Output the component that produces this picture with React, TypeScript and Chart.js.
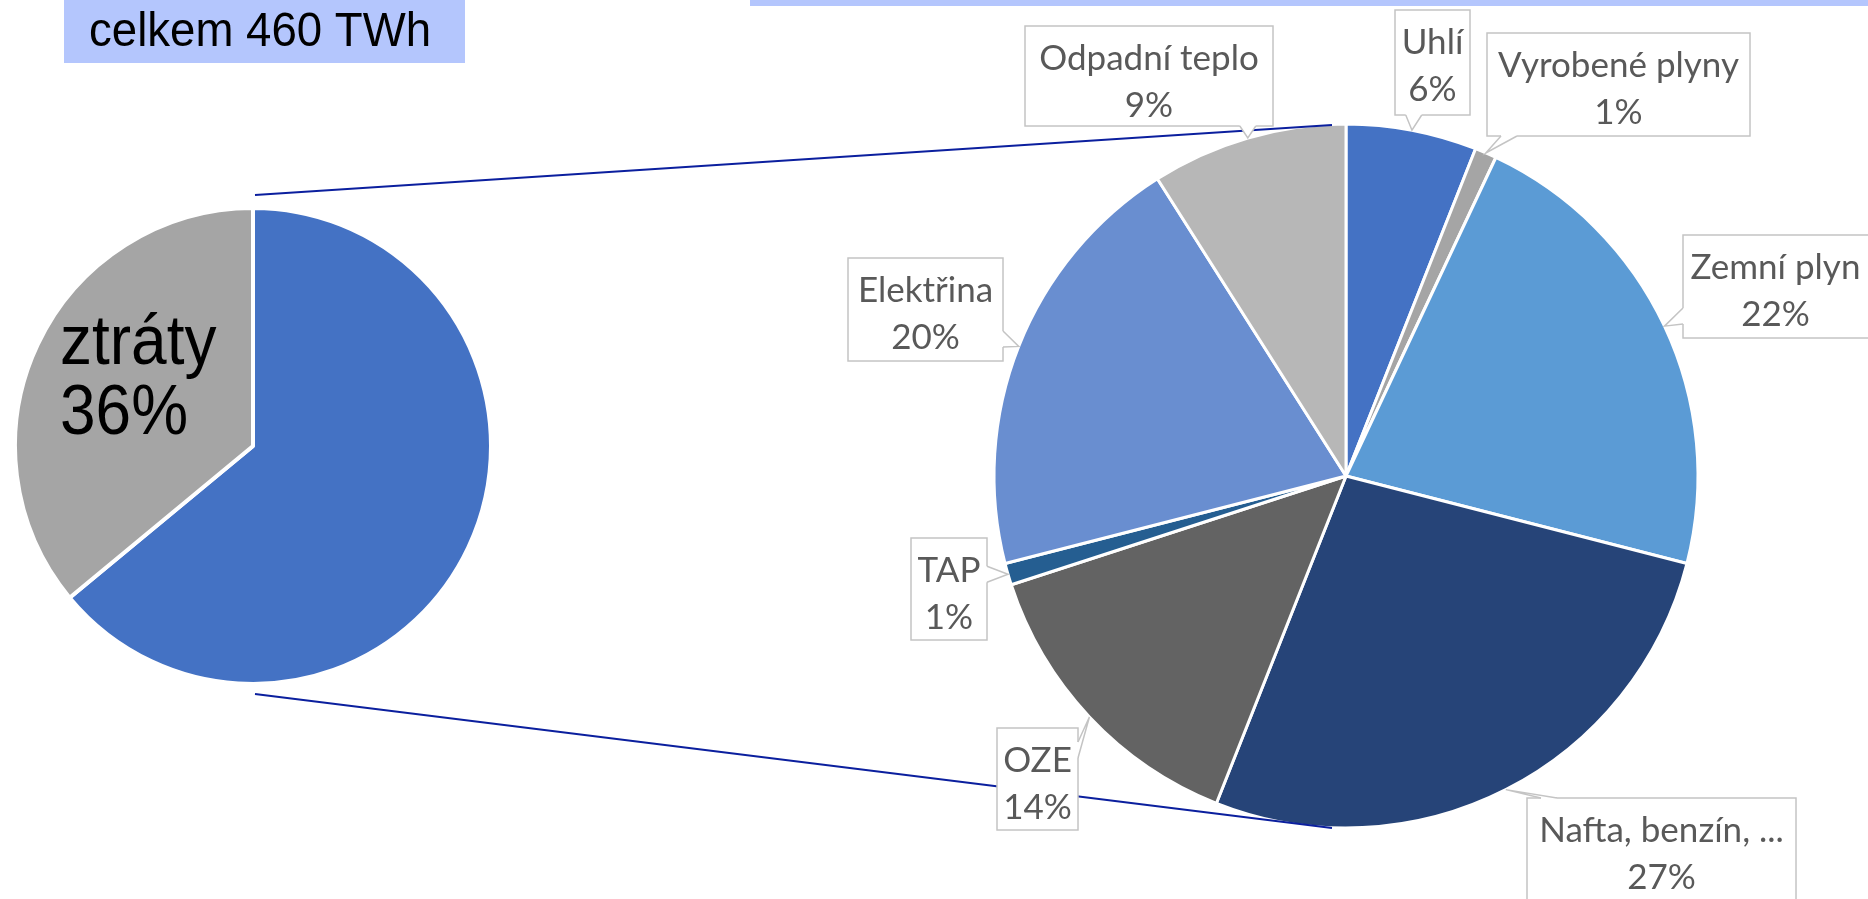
import React, { useEffect, useRef } from "react";
import { Chart, registerables } from "chart.js";

Chart.register(...registerables);

// ---------- data ----------
const totalTitle = "celkem 460 TWh";
const totalLabels = ["využito", "ztráty"];
const totalValues = [64, 36];
const totalColors = ["#4472C4", "#A5A5A5"];

const mixLabels = [
  "Uhlí",
  "Vyrobené plyny",
  "Zemní plyn",
  "Nafta, benzín, ...",
  "OZE",
  "TAP",
  "Elektřina",
  "Odpadní teplo",
];
const mixValues = [6, 1, 22, 27, 14, 1, 20, 9];
const mixColors = [
  "#4472C4",
  "#A5A5A5",
  "#5B9BD5",
  "#264478",
  "#636363",
  "#255E91",
  "#698ED0",
  "#B7B7B7",
];

// ---------- layout ----------
const PAGE_W = 1868;
const PAGE_H = 899;
const LEFT_CX = 253;
const LEFT_CY = 446;
const LEFT_R = 238;
const LEFT_BW = 4;
const RIGHT_CX = 1346;
const RIGHT_CY = 476;
const RIGHT_R = 352;
const RIGHT_BW = 3;

// callout boxes [x, y, w, h] and side of the pointer
const calloutBoxes = [
  [1395, 10, 75, 105],
  [1487, 33, 263, 103],
  [1683, 235, 187, 103],
  [1527, 798, 269, 103],
  [997, 728, 81, 102],
  [911, 538, 76, 102],
  [848, 258, 155, 103],
  [1025, 26, 248, 100],
];
const calloutSides = ["bottom", "bottom", "left", "top", "right", "right", "right", "bottom"];

const LABEL_FONT = "35px Lato, 'Open Sans', sans-serif";
const LABEL_COLOR = "#595959";
const BOX_STROKE = "#C4C4C4";
const CONNECTOR = "#0B1F9E";
const TITLE_BG = "#B4C6FD";

function clamp(v: number, a: number, b: number) {
  return Math.max(a, Math.min(b, v));
}

function drawCallout(
  ctx: CanvasRenderingContext2D,
  box: number[],
  side: string,
  tx: number,
  ty: number,
  lines: string[]
) {
  const [x0, y0, w, h] = box;
  const x1 = x0 + w;
  const y1 = y0 + h;
  ctx.save();
  ctx.lineWidth = 1.5;
  ctx.strokeStyle = BOX_STROKE;
  ctx.fillStyle = "#FFFFFF";
  ctx.fillRect(x0, y0, w, h);
  ctx.strokeRect(x0, y0, w, h);

  const half = 8;
  let b1x = 0, b1y = 0, b2x = 0, b2y = 0, ix = 0, iy = 0;
  if (side === "bottom" || side === "top") {
    const m = Math.min(22, w / 4);
    const c = clamp(tx, x0 + m, x1 - m);
    const yy = side === "bottom" ? y1 : y0;
    b1x = c - half; b2x = c + half; b1y = yy; b2y = yy;
    iy = side === "bottom" ? -1.5 : 1.5;
  } else {
    const m = Math.min(22, h / 4);
    const c = clamp(ty, y0 + m, y1 - m);
    const xx = side === "right" ? x1 : x0;
    b1y = c - half; b2y = c + half; b1x = xx; b2x = xx;
    ix = side === "right" ? -1.5 : 1.5;
  }
  ctx.beginPath();
  ctx.moveTo(b1x + ix, b1y + iy);
  ctx.lineTo(b1x, b1y);
  ctx.lineTo(tx, ty);
  ctx.lineTo(b2x, b2y);
  ctx.lineTo(b2x + ix, b2y + iy);
  ctx.closePath();
  ctx.fill();
  ctx.beginPath();
  ctx.moveTo(b1x, b1y);
  ctx.lineTo(tx, ty);
  ctx.lineTo(b2x, b2y);
  ctx.stroke();

  ctx.fillStyle = LABEL_COLOR;
  ctx.font = LABEL_FONT;
  ctx.textAlign = "center";
  ctx.textBaseline = "alphabetic";
  const cx = (x0 + Math.min(x1, PAGE_W)) / 2;
  ctx.fillText(lines[0], cx, y0 + 44);
  ctx.fillText(lines[1], cx, y0 + 91);
  ctx.restore();
}

function stretchedText(
  ctx: CanvasRenderingContext2D,
  text: string,
  x: number,
  y: number,
  sy: number
) {
  ctx.save();
  ctx.translate(x, y);
  ctx.scale(1, sy);
  ctx.fillText(text, 0, 0);
  ctx.restore();
}

export default function App() {
  const leftRef = useRef<HTMLCanvasElement | null>(null);
  const rightRef = useRef<HTMLCanvasElement | null>(null);

  useEffect(() => {
    const leftSize = 2 * LEFT_R + LEFT_BW;
    const leftX = LEFT_CX - leftSize / 2;
    const leftY = LEFT_CY - leftSize / 2;

    const leftChart = new Chart(leftRef.current as HTMLCanvasElement, {
      type: "pie",
      data: {
        labels: totalLabels,
        datasets: [
          {
            data: totalValues,
            backgroundColor: totalColors,
            borderColor: "#FFFFFF",
            borderWidth: LEFT_BW,
            hoverOffset: 0,
          },
        ],
      },
      options: {
        responsive: false,
        animation: false,
        events: [],
        layout: { padding: 0 },
        plugins: { legend: { display: false }, tooltip: { enabled: false } },
      },
      plugins: [
        {
          id: "lossLabel",
          afterDatasetsDraw(chart: any) {
            const ctx = chart.ctx;
            const arc = chart.getDatasetMeta(0).data[0];
            ctx.save();
            ctx.fillStyle = "#000000";
            ctx.font = "64px 'Liberation Sans', Arial, sans-serif";
            ctx.textAlign = "left";
            ctx.textBaseline = "alphabetic";
            stretchedText(ctx, totalLabels[1], arc.x - 193, arc.y - 82, 1.1);
            stretchedText(ctx, totalValues[1] + "%", arc.x - 193, arc.y - 12, 1.1);
            ctx.restore();
          },
        },
      ],
    } as any);

    const half = RIGHT_R + RIGHT_BW / 2;
    const rightChart = new Chart(rightRef.current as HTMLCanvasElement, {
      type: "pie",
      data: {
        labels: mixLabels,
        datasets: [
          {
            data: mixValues,
            backgroundColor: mixColors,
            borderColor: "#FFFFFF",
            borderWidth: RIGHT_BW,
            hoverOffset: 0,
          },
        ],
      },
      options: {
        responsive: false,
        animation: false,
        events: [],
        layout: {
          padding: {
            left: RIGHT_CX - half,
            right: PAGE_W - RIGHT_CX - half,
            top: RIGHT_CY - half,
            bottom: PAGE_H - RIGHT_CY - half,
          },
        },
        plugins: { legend: { display: false }, tooltip: { enabled: false } },
      },
      plugins: [
        {
          id: "decor",
          beforeDraw(chart: any) {
            const ctx = chart.ctx;
            ctx.save();
            ctx.fillStyle = TITLE_BG;
            ctx.fillRect(64, 0, 401, 63);
            ctx.fillRect(750, 0, PAGE_W - 750, 6);
            ctx.fillStyle = "#000000";
            ctx.font = "45.6px 'Liberation Sans', Arial, sans-serif";
            ctx.textAlign = "left";
            ctx.textBaseline = "alphabetic";
            stretchedText(ctx, totalTitle, 89, 46, 1.06);
            ctx.restore();
          },
          afterDatasetsDraw(chart: any) {
            const ctx = chart.ctx;
            const meta = chart.getDatasetMeta(0);
            const a0 = meta.data[0];
            const rx = a0.x;
            const ry = a0.y;
            const rr = a0.outerRadius;
            const la = leftChart.getDatasetMeta(0).data[0] as any;
            const lx = leftX + la.x;
            const ly = leftY + la.y;
            const lr = la.outerRadius;

            ctx.save();
            ctx.strokeStyle = CONNECTOR;
            ctx.lineWidth = 2;
            ctx.beginPath();
            ctx.moveTo(lx + 2, ly - lr - 13);
            ctx.lineTo(rx - 14, ry - rr + 1);
            ctx.moveTo(lx + 2, ly + lr + 10);
            ctx.lineTo(rx - 14, ry + rr);
            ctx.stroke();
            ctx.restore();

            meta.data.forEach((arc: any, i: number) => {
              const mid = (arc.startAngle + arc.endAngle) / 2;
              const tx = arc.x + Math.cos(mid) * arc.outerRadius;
              const ty = arc.y + Math.sin(mid) * arc.outerRadius;
              drawCallout(ctx, calloutBoxes[i], calloutSides[i], tx, ty, [
                mixLabels[i],
                mixValues[i] + "%",
              ]);
            });
          },
        },
      ],
    } as any);

    return () => {
      rightChart.destroy();
      leftChart.destroy();
    };
  }, []);

  const leftSize = 2 * LEFT_R + LEFT_BW;
  return (
    <div style={{ position: "absolute", left: 0, top: 0, width: PAGE_W, height: PAGE_H, background: "#FFFFFF", overflow: "hidden" }}>
      <canvas
        ref={rightRef}
        width={PAGE_W}
        height={PAGE_H}
        style={{ position: "absolute", left: 0, top: 0, width: PAGE_W, height: PAGE_H }}
      />
      <canvas
        ref={leftRef}
        width={leftSize}
        height={leftSize}
        style={{
          position: "absolute",
          left: LEFT_CX - leftSize / 2,
          top: LEFT_CY - leftSize / 2,
          width: leftSize,
          height: leftSize,
        }}
      />
    </div>
  );
}
